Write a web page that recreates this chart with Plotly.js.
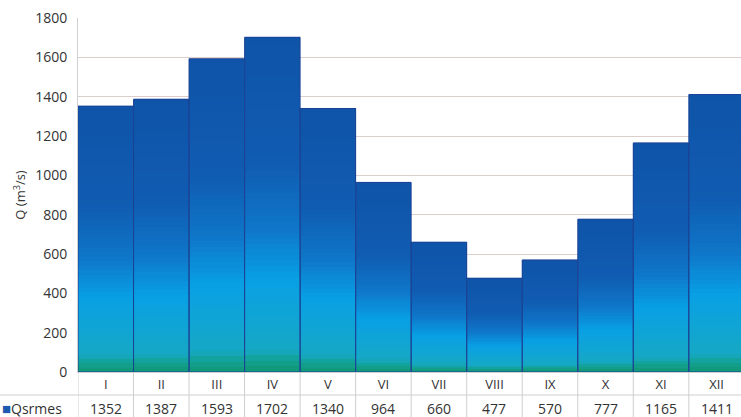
<!DOCTYPE html>
<html>
<head>
<meta charset="utf-8">
<script src="https://cdn.plot.ly/plotly-3.0.1.min.js"></script>
<style>html,body{margin:0;padding:0;background:#fff;}#chart{width:741px;height:417px;}</style>
</head>
<body>
<div id="chart"></div>
<script>
// ---- data ----
const months = ['I','II','III','IV','V','VI','VII','VIII','IX','X','XI','XII'];
const qsrmes = [1352, 1387, 1593, 1702, 1340, 964, 660, 477, 570, 777, 1165, 1411];
const seriesName = 'Qsrmes';
const yTitle = 'Q (m<sup>3</sup>/s)';

// ---- gradient (relative to each bar's height, bottom -> top) ----
const stops = [
  [0.00, [16,150,118]],
  [0.03, [18,160,140]],
  [0.065,[22,168,196]],
  [0.16, [16,165,212]],
  [0.28, [8,160,228]],
  [0.42, [14,120,202]],
  [0.62, [16,92,178]],
  [1.00, [15,84,168]]
];
function colorAt(t){
  for(let i=1;i<stops.length;i++){
    if(t<=stops[i][0]){
      const a=stops[i-1], b=stops[i];
      const f=(t-a[0])/(b[0]-a[0]);
      const c=a[1].map((v,k)=>Math.round(v+(b[1][k]-v)*f));
      return 'rgb('+c.join(',')+')';
    }
  }
  const l=stops[stops.length-1][1];
  return 'rgb('+l.join(',')+')';
}

const N = 60;
const traces = [];
for(let k=0;k<N;k++){
  const frac = 1 - k/N;
  traces.push({
    type:'bar', x:months, y:qsrmes.map(v=>v*frac),
    marker:{color:colorAt(1-(k+0.5)/N), line:{width:0}},
    hoverinfo:'skip', showlegend:false
  });
}
// outline
traces.push({
  type:'bar', x:months, y:qsrmes, name:seriesName,
  marker:{color:'rgba(0,0,0,0)', line:{color:'rgb(28,68,150)', width:1}},
  showlegend:false
});

// ---- data-table below the plot ----
const plotH = 417-18-45, plotW = 741-78;
const rowY = -36/plotH;     // value row center
const divY = -23/plotH;     // line between rows
const botY = -46/plotH;
const leftX = -78/plotW;
const shapes = [];
for(let i=0;i<=months.length;i++){
  shapes.push({type:'line', xref:'x', yref:'paper', x0:i-0.5, x1:i-0.5, y0:0, y1:botY,
    line:{color:'#cfcfcf', width:1}});
}
shapes.push({type:'line', xref:'paper', yref:'paper', x0:leftX, x1:1, y0:divY, y1:divY,
  line:{color:'#cfcfcf', width:1}});

const annotations = qsrmes.map((v,i)=>({
  x:months[i], xref:'x', y:rowY, yref:'paper', text:String(v), showarrow:false,
  font:{family:'Open Sans', size:14, color:'#333333'}, yanchor:'middle'
}));
annotations.push({
  x:leftX, xref:'paper', y:rowY, yref:'paper', xanchor:'left', yanchor:'middle', showarrow:false,
  text:'<span style="color:#1c5bb0;font-size:15px">■</span>'+seriesName,
  font:{family:'Open Sans', size:14, color:'#333333'}
});

const layout = {
  width:741, height:417,
  margin:{l:78, r:0, t:18, b:45},
  paper_bgcolor:'#ffffff', plot_bgcolor:'#ffffff',
  barmode:'overlay', bargap:0,
  showlegend:false,
  xaxis:{
    type:'category', range:[-0.5, 11.44], fixedrange:true,
    showgrid:false, zeroline:false, showline:true, linecolor:'#cfcfcf', linewidth:1,
    ticks:'', tickfont:{family:'Open Sans', size:13, color:'#333333'}
  },
  yaxis:{
    range:[0,1800], dtick:200, fixedrange:true,
    showgrid:true, gridcolor:'#dccfcb', gridwidth:1,
    zeroline:false, showline:true, linecolor:'#d0d0d0', linewidth:1,
    ticks:'', ticklabelstandoff:7,
    tickfont:{family:'Open Sans', size:14, color:'#333333'},
    title:{text:yTitle, font:{family:'Open Sans', size:13, color:'#333333'}, standoff:6}
  },
  shapes:shapes,
  annotations:annotations
};

Plotly.newPlot('chart', traces, layout, {displayModeBar:false, staticPlot:true});
</script>
</body>
</html>
